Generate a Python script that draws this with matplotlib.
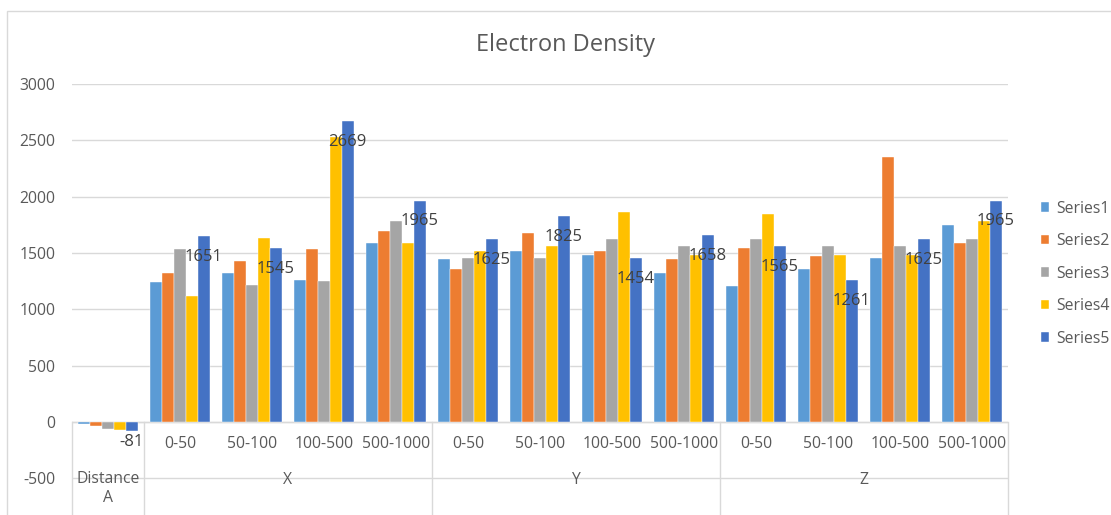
import matplotlib
matplotlib.use("Agg")
import matplotlib.pyplot as plt
from matplotlib.patches import Rectangle
import numpy as np

plt.rcParams['font.family'] = ['Open Sans', 'DejaVu Sans']
plt.rcParams['axes.unicode_minus'] = False

# categories: first is "Distance A", then 4 ranges for each of X, Y, Z
ranges = ['0-50', '50-100', '100-500', '500-1000']
groups = ['X', 'Y', 'Z']
cat_labels = [''] + ranges * 3

series_names = ['Series1', 'Series2', 'Series3', 'Series4', 'Series5']
series1 = [-18, 1246, 1323, 1264, 1587, 1447, 1522, 1486, 1323, 1210, 1361, 1456, 1747]
series2 = [-38, 1323, 1427, 1539, 1691, 1361, 1682, 1522, 1447, 1542, 1477, 2352, 1587]
series3 = [-60, 1539, 1219, 1255, 1786, 1456, 1456, 1628, 1560, 1628, 1560, 1560, 1628]
series4 = [-75, 1115, 1634, 2533, 1587, 1522, 1560, 1863, 1486, 1842, 1483, 1483, 1786]
series5 = [-81, 1651, 1545, 2669, 1965, 1625, 1825, 1454, 1658, 1565, 1261, 1625, 1965]
colors = ['#5B9BD5', '#ED7D31', '#A5A5A5', '#FFC000', '#4472C4']

all_series = [series1, series2, series3, series4, series5]

fs = 11.3  # text size used for axis labels

fig = plt.figure(figsize=(11.11, 5.15), dpi=100)
ax = fig.add_axes([72 / 1111, 0, 936 / 1111, 1 - 84 / 515])

# chart border
fig.patches.append(Rectangle((7 / 1111, -0.1), 1.2, 1 - 11 / 515 + 0.1,
                             transform=fig.transFigure, fill=False,
                             edgecolor='#d9d9d9', linewidth=1))

n = len(cat_labels)
x = np.arange(n)
w = 0.164
for i, (vals, col, name) in enumerate(zip(all_series, colors, series_names)):
    ax.bar(x + (i - 2) * w, vals, width=w, color=col, label=name,
           edgecolor='white', linewidth=0.3, zorder=3)

# data labels on Series5
for xi, v in zip(x, series5):
    off = -15 if v > 0 else -8
    ax.annotate(str(v), (xi + 2 * w, v), xytext=(0, off), textcoords='offset points',
                ha='center', va='center', fontsize=12, color='#404040', zorder=4)

ax.set_xlim(-0.5, n - 0.5)
ax.set_ylim(-825, 3000)
ax.set_yticks(np.arange(-500, 3001, 500))
ax.yaxis.grid(True, color='#d9d9d9', linewidth=1, zorder=0)
ax.tick_params(axis='y', length=0, pad=12, labelsize=fs, labelcolor='#595959')
ax.set_xticks([])
for s in ax.spines.values():
    s.set_visible(False)

# category axis line and dividers
ax.axhline(0, color='#d9d9d9', linewidth=1, zorder=2)
for b in [-0.5, 0.5, 4.5, 8.5, 12.5]:
    ax.plot([b, b], [0, -830], color='#d9d9d9', linewidth=1, clip_on=False, zorder=2)

for xi, lab in zip(x, cat_labels):
    if lab:
        ax.text(xi, -195, lab, ha='center', va='center', fontsize=fs, color='#595959')
ax.text(0, -590, 'Distance\nA', ha='center', va='center', fontsize=fs,
        color='#595959', linespacing=1.25)
for gi, g in enumerate(groups):
    ax.text(2.5 + 4 * gi, -510, g, ha='center', va='center', fontsize=fs, color='#595959')

fig.text(566 / 1111, 1 - 45 / 515, 'Electron Density', ha='center', va='center',
         fontsize=17, color='#595959')

leg = ax.legend(loc='center left', bbox_to_anchor=(1.02, 0.56), frameon=False,
                fontsize=fs, handlelength=0.55, handleheight=0.55, handletextpad=0.4,
                labelspacing=1.05)
for t in leg.get_texts():
    t.set_color('#595959')

fig.savefig('out.png', dpi=100)
